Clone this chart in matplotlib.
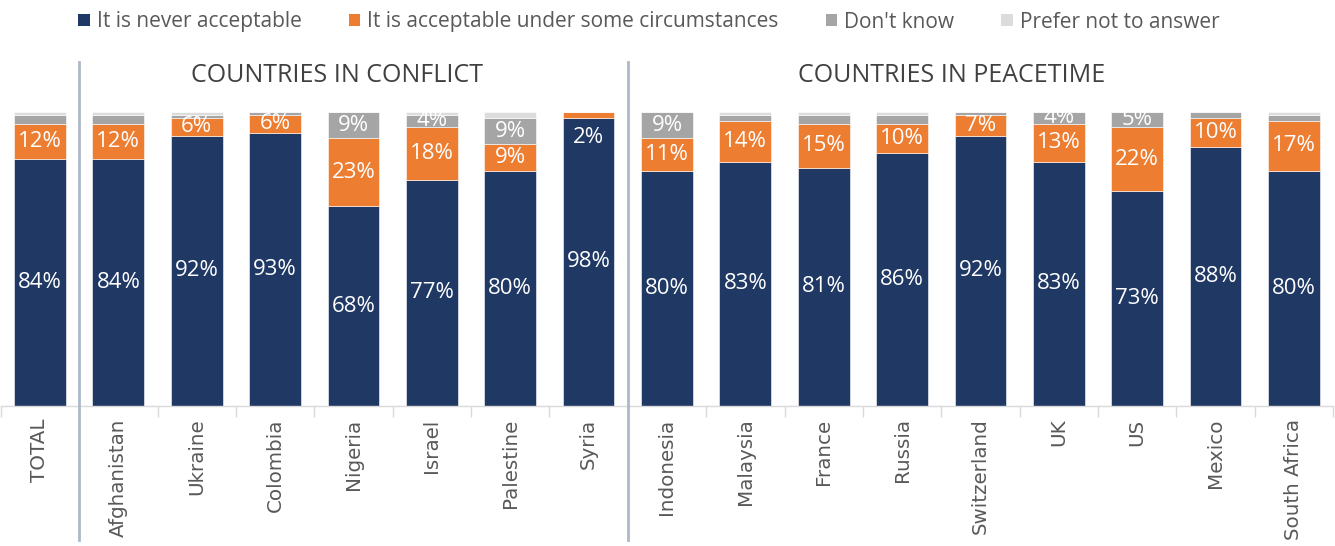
import matplotlib
matplotlib.use("Agg")
import matplotlib.pyplot as plt
import numpy as np
from matplotlib.patches import Patch
from matplotlib.lines import Line2D

categories = ["TOTAL", "Afghanistan", "Ukraine", "Colombia", "Nigeria", "Israel", "Palestine", "Syria",
              "Indonesia", "Malaysia", "France", "Russia", "Switzerland", "UK", "US", "Mexico", "South Africa"]
never = [84, 84, 92, 93, 68, 77, 80, 98, 80, 83, 81, 86, 92, 83, 73, 88, 80]
some = [12, 12, 6, 6, 23, 18, 9, 2, 11, 14, 15, 10, 7, 13, 22, 10, 17]
dont_know = [3, 3, 1, 1, 9, 4, 9, 0, 9, 2, 3, 3, 1, 4, 5, 2, 2]
prefer_not = [1, 1, 1, 0, 0, 1, 2, 0, 0, 1, 1, 1, 0, 0, 0, 0, 1]
series_names = ["It is never acceptable", "It is acceptable under some circumstances",
                "Don't know", "Prefer not to answer"]
group_titles = ["COUNTRIES IN CONFLICT", "COUNTRIES IN PEACETIME"]

colors = ["#1F3864", "#ED7D31", "#A5A5A5", "#DCDCDC"]
FONT = "Open Sans"
TXT = "#595959"

fig = plt.figure(figsize=(13.35, 5.46), dpi=100)
ax = fig.add_axes([0.0006, 1 - 406 / 546, 0.998, (406 - 112) / 546])

x = np.arange(len(categories))
w = 0.66
bottom = np.zeros(len(categories))
series = [never, some, dont_know, prefer_not]
for s, (vals, c) in enumerate(zip(series, colors)):
    vals = np.array(vals, dtype=float)
    ax.bar(x, vals, w, bottom=bottom, color=c, edgecolor="white", linewidth=0.4, zorder=2)
    if s < 3:
        for i, (v, b) in enumerate(zip(vals, bottom)):
            if s == 2 and v < 4:
                continue
            if v <= 0:
                continue
            if v < 4:
                ax.annotate(f"{int(v)}%", (x[i], b), xytext=(0, -14), textcoords="offset points",
                            ha="center", va="center", color="white", fontsize=16, family=FONT)
            else:
                ax.text(x[i], b + v / 2, f"{int(v)}%", ha="center", va="center",
                        color="white", fontsize=16, family=FONT, zorder=3)
    bottom += vals

ax.set_xlim(-0.5, len(categories) - 0.5)
ax.set_ylim(0, 100)
for sp in ["top", "right", "left"]:
    ax.spines[sp].set_visible(False)
ax.spines["bottom"].set_color("#D9D9D9")
ax.spines["bottom"].set_linewidth(1)
ax.set_yticks([])
ax.set_xticks(x)
ax.set_xticklabels(categories, rotation=90, va="top", ha="center", family="DejaVu Sans",
                   fontsize=14.3, color=TXT)
ax.tick_params(axis="x", which="major", length=0, pad=9)
ax.set_xticks(np.arange(-0.5, len(categories), 1), minor=True)
ax.tick_params(axis="x", which="minor", length=8, color="#D9D9D9", width=1)

# separators
for b in [0.5, 7.5]:
    xf = fig.transFigure.inverted().transform(ax.transData.transform((b, 0)))[0]
    fig.add_artist(Line2D([xf, xf], [1 - 540 / 546, 1 - 62 / 546], color="#ADB9CA", lw=2,
                          transform=fig.transFigure))

# group titles
for xc, t in zip([3.79, 11.63], group_titles):
    xf = fig.transFigure.inverted().transform(ax.transData.transform((xc, 0)))[0]
    fig.text(xf, 1 - 76 / 546, t, ha="center", va="center", fontsize=18, color="#404040", family=FONT)

handles = [Patch(facecolor=c, edgecolor="none") for c in colors]
fig.legend(handles, series_names, loc="center", bbox_to_anchor=(0.486, 1 - 22 / 546), ncol=4,
           frameon=False, prop={"family": FONT, "size": 15}, handlelength=0.55, handleheight=0.55,
           handletextpad=0.35, columnspacing=2.25, labelcolor=TXT)

fig.savefig("out.png", dpi=100)
